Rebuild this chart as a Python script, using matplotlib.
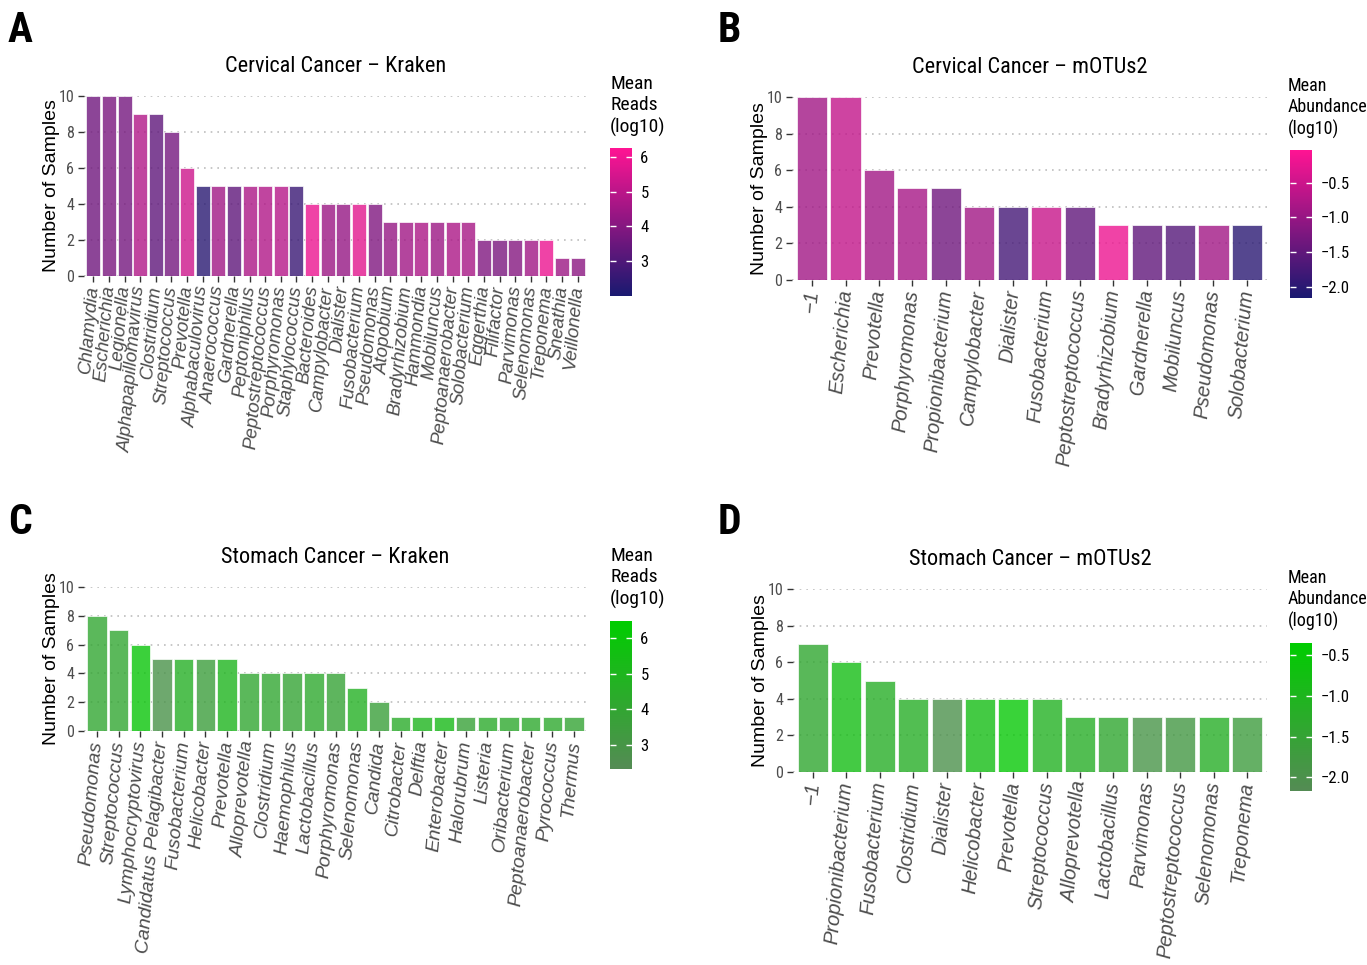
import matplotlib
matplotlib.use('Agg')
import matplotlib.pyplot as plt
import numpy as np
from matplotlib.colors import LinearSegmentedColormap, Normalize
from matplotlib import font_manager

names = {f.name for f in font_manager.fontManager.ttflist}
narrow = None
for cand in ['Liberation Sans Narrow', 'DejaVu Sans Condensed', 'Roboto Condensed',
             'Open Sans Condensed', 'Noto Sans Condensed']:
    if cand in names:
        narrow = cand
        break
has_narrow = narrow is not None
if narrow is None:
    narrow = 'Liberation Sans'
NF = [narrow, 'DejaVu Sans']
plt.rcParams['font.family'] = ['Liberation Sans', 'DejaVu Sans']

# ---- data ----
a_genus = ['Chlamydia', 'Escherichia', 'Legionella', 'Alphapapillomavirus', 'Clostridium',
           'Streptococcus', 'Prevotella', 'Alphabaculovirus', 'Anaerococcus', 'Gardnerella',
           'Peptoniphilus', 'Peptostreptococcus', 'Porphyromonas', 'Staphylococcus',
           'Bacteroides', 'Campylobacter', 'Dialister', 'Fusobacterium', 'Pseudomonas',
           'Atopobium', 'Bradyrhizobium', 'Hammondia', 'Mobiluncus', 'Peptoanaerobacter',
           'Solobacterium', 'Eggerthia', 'Filifactor', 'Parvimonas', 'Selenomonas',
           'Treponema', 'Sneathia', 'Veillonella']
a_count = [10, 10, 10, 9, 9, 8, 6, 5, 5, 5, 5, 5, 5, 5, 4, 4, 4, 4, 4,
           3, 3, 3, 3, 3, 3, 2, 2, 2, 2, 2, 1, 1]
a_reads = [3.6, 3.8, 3.7, 4.8, 3.3, 3.7, 5.3, 2.3, 4.5, 3.3, 4.7, 4.8, 4.9, 2.6,
           5.9, 4.4, 4.3, 5.7, 3.9, 4.3, 4.5, 4.7, 4.4, 4.7, 4.6,
           3.9, 3.8, 4.0, 4.5, 5.9, 4.4, 4.1]

b_genus = ['\u22121', 'Escherichia', 'Prevotella', 'Porphyromonas', 'Propionibacterium',
           'Campylobacter', 'Dialister', 'Fusobacterium', 'Peptostreptococcus',
           'Bradyrhizobium', 'Gardnerella', 'Mobiluncus', 'Pseudomonas', 'Solobacterium']
b_count = [10, 10, 6, 5, 5, 4, 4, 4, 4, 3, 3, 3, 3, 3]
b_abund = [-0.9, -0.6, -0.9, -0.85, -1.35, -0.9, -1.75, -0.55, -1.5,
           -0.2, -1.5, -1.6, -0.9, -2.0]

c_genus = ['Pseudomonas', 'Streptococcus', 'Lymphocryptovirus', 'Candidatus Pelagibacter',
           'Fusobacterium', 'Helicobacter', 'Prevotella', 'Alloprevotella', 'Clostridium',
           'Haemophilus', 'Lactobacillus', 'Porphyromonas', 'Selenomonas', 'Candida',
           'Citrobacter', 'Delftia', 'Enterobacter', 'Halorubrum', 'Listeria',
           'Oribacterium', 'Peptoanaerobacter', 'Pyrococcus', 'Thermus']
c_count = [8, 7, 6, 5, 5, 5, 5, 4, 4, 4, 4, 4, 3, 2, 1, 1, 1, 1, 1, 1, 1, 1, 1]
c_reads = [4.0, 4.0, 6.0, 2.8, 4.6, 3.5, 5.0, 4.0, 4.0, 3.9, 4.2, 3.8, 4.7, 3.6,
           4.4, 5.0, 5.3, 3.7, 4.3, 4.2, 4.2, 4.2, 3.9]

d_genus = ['\u22121', 'Propionibacterium', 'Fusobacterium', 'Clostridium', 'Dialister',
           'Helicobacter', 'Prevotella', 'Streptococcus', 'Alloprevotella', 'Lactobacillus',
           'Parvimonas', 'Peptostreptococcus', 'Selenomonas', 'Treponema']
d_count = [7, 6, 5, 4, 4, 4, 4, 4, 3, 3, 3, 3, 3, 3]
d_abund = [-1.4, -0.8, -1.2, -1.2, -2.0, -0.8, -0.5, -1.1, -1.2, -1.4,
           -1.9, -1.8, -1.2, -1.7]

pink = LinearSegmentedColormap.from_list('pink', ['#191970', '#FF1493'])
green = LinearSegmentedColormap.from_list('green', ['#548B54', '#00CD00'])

fig = plt.figure(figsize=(13.67, 9.65), dpi=100)
W, H = 1367, 965


def px(x0, y0, x1, y1):
    return [x0 / W, 1 - y1 / H, (x1 - x0) / W, (y1 - y0) / H]


panels = [
    dict(lab='A', genus=a_genus, count=a_count, val=a_reads, cmap=pink,
         vmin=2.0, vmax=6.25, ticks=[3, 4, 5, 6], title='Cervical Cancer \u2013 Kraken',
         ax=(84, 96, 587, 276), cb=(610, 148, 632, 296), leg='Mean\nReads\n(log10)',
         legx=610, legy=75, laby=10, fs=13.5),
    dict(lab='B', genus=b_genus, count=b_count, val=b_abund, cmap=pink,
         vmin=-2.16, vmax=-0.03, ticks=[-2.0, -1.5, -1.0, -0.5],
         title='Cervical Cancer \u2013 mOTUs2',
         ax=(792, 97, 1267, 280), cb=(1290, 150, 1312, 298), leg='Mean\nAbundance\n(log10)',
         legx=1288, legy=77, laby=10, fs=14.5),
    dict(lab='C', genus=c_genus, count=c_count, val=c_reads, cmap=green,
         vmin=2.32, vmax=6.48, ticks=[3, 4, 5, 6], title='Stomach Cancer \u2013 Kraken',
         ax=(84, 587, 587, 731), cb=(610, 621, 632, 769), leg='Mean\nReads\n(log10)',
         legx=610, legy=547, laby=502, fs=14),
    dict(lab='D', genus=d_genus, count=d_count, val=d_abund, cmap=green,
         vmin=-2.17, vmax=-0.35, ticks=[-2.0, -1.5, -1.0, -0.5],
         title='Stomach Cancer \u2013 mOTUs2',
         ax=(793, 589, 1267, 772), cb=(1290, 643, 1312, 791), leg='Mean\nAbundance\n(log10)',
         legx=1288, legy=569, laby=502, fs=14.5),
]

title_fs = 16 if has_narrow else 14.5

for p in panels:
    ax = fig.add_axes(px(*p['ax']))
    norm = Normalize(p['vmin'], p['vmax'])
    n = len(p['genus'])
    x = np.arange(n)
    ax.bar(x, p['count'], width=0.9, color=p['cmap'](norm(p['val'])), alpha=0.8,
           edgecolor='white', linewidth=0.6, zorder=3)
    ax.set_xlim(-0.6, n - 0.4)
    ax.set_ylim(0, 10)
    ax.set_yticks([0, 2, 4, 6, 8, 10])
    ax.yaxis.grid(True, color='#BEBEBE', linestyle=(0, (1, 3)), linewidth=1.2, zorder=0)
    ax.set_axisbelow(True)
    for s in ax.spines.values():
        s.set_visible(False)
    ax.set_xticks(x)
    ax.set_xticklabels(p['genus'], rotation=85, ha='right', va='center',
                       rotation_mode='anchor', style='italic', fontsize=p['fs'],
                       color='#4D4D4D')
    ax.tick_params(axis='both', length=4, width=1, color='#333333', pad=3)
    for t in ax.get_yticklabels():
        t.set_family(NF)
        t.set_fontsize(11.5)
        t.set_color('#4D4D4D')
    ax.set_ylabel('Number of Samples', fontsize=14, labelpad=-1)
    ax.set_title(p['title'], fontsize=title_fs, family=NF, pad=17)

    cax = fig.add_axes(px(*p['cb']))
    sm = plt.cm.ScalarMappable(norm=norm, cmap=p['cmap'])
    cb = fig.colorbar(sm, cax=cax)
    cb.outline.set_visible(False)
    cb.set_ticks(p['ticks'])
    if p['vmax'] > 1:
        cb.set_ticklabels(['%d' % t for t in p['ticks']])
    else:
        cb.set_ticklabels(['\u2212%.1f' % abs(t) for t in p['ticks']])
    cax.tick_params(which='both', direction='in', color='white', length=4, width=1,
                    left=True, right=True, labelsize=12, pad=6)
    for t in cax.get_yticklabels():
        t.set_family(NF)

    lfs = 14 if 'Reads' in p['leg'] else 13
    fig.text(p['legx'] / W, 1 - p['legy'] / H, p['leg'], va='top', ha='left',
             fontsize=lfs, family=NF, linespacing=1.25)
    lx = 8 if p['lab'] in 'AC' else 718
    fig.text(lx / W, 1 - p['laby'] / H, p['lab'], va='top', ha='left',
             fontsize=30, fontweight='bold', family=NF)

fig.savefig('out.png', dpi=100)
